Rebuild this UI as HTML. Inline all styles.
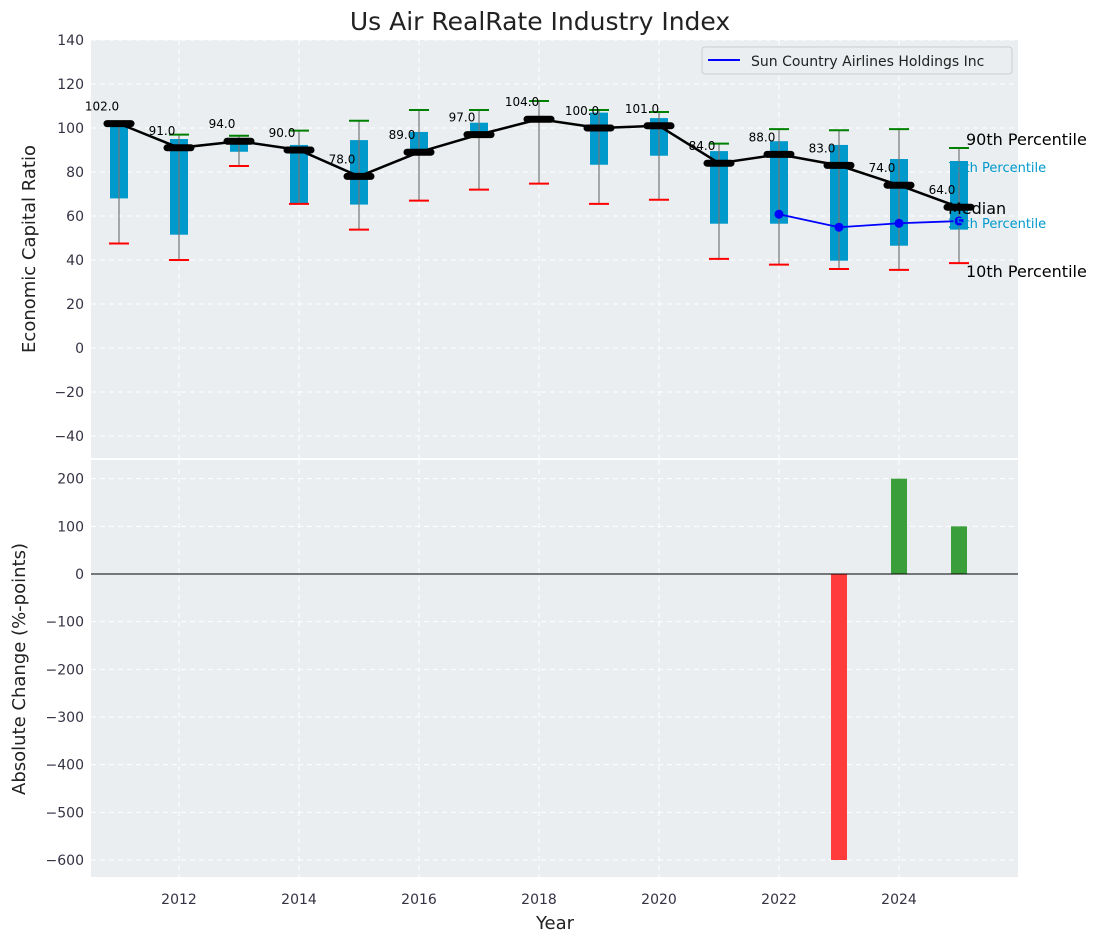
<!DOCTYPE html>
<html><head><meta charset="utf-8"><style>
body{margin:0;background:#fff;font-family:"Liberation Sans","DejaVu Sans",sans-serif;}
svg text{font-family:"DejaVu Sans","Liberation Sans",sans-serif;}
</style></head><body>
<svg id="chart" width="1101" height="942" xmlns="http://www.w3.org/2000/svg">
<text x="540" y="30" font-size="25" text-anchor="middle" fill="#222">Us Air RealRate Industry Index</text>
<rect x="91" y="40" width="927" height="418" fill="#eaeef0"/>
<rect x="91" y="460" width="927" height="417" fill="#eaeef0"/>
<g id="topG"></g><g id="botG"></g>
<text transform="translate(35,249) rotate(-90)" font-size="18" text-anchor="middle" fill="#222">Economic Capital Ratio</text>
<text transform="translate(25,669) rotate(-90)" font-size="18" text-anchor="middle" fill="#222">Absolute Change (%-points)</text>
<text x="555" y="929" font-size="18" text-anchor="middle" fill="#222">Year</text>
<g>
<rect x="702" y="47" width="310" height="27" rx="3" fill="#eaeef0" stroke="#ccc"/>
<line x1="708" y1="60" x2="740" y2="60" stroke="#0000ff" stroke-width="2"/>
<text x="751" y="66" font-size="14" fill="#222">Sun Country Airlines Holdings Inc</text>
</g>
<text x="966" y="145" font-size="16" fill="#000">90th Percentile</text>
<text x="948" y="172" font-size="13" fill="#0099cc">75th Percentile</text>
<text x="948" y="214" font-size="16" fill="#000">Median</text>
<text x="948" y="228" font-size="13" fill="#0099cc">25th Percentile</text>
<text x="966" y="277" font-size="16" fill="#000">10th Percentile</text>
</svg>
<script>
const years=[2011,2012,2013,2014,2015,2016,2017,2018,2019,2020,2021,2022,2023,2024,2025];
const p10=[47.5,40,82.7,65.5,53.8,67,72,74.7,65.5,67.4,40.5,37.9,35.9,35.5,38.6];
const p25=[68,51.5,89.2,65.6,65.2,89,97,104,83.3,87.4,56.5,56.5,39.7,46.5,53.8];
const medians=[102,91,94,90,78,89,97,104,100,101,84,88,83,74,64];
const p75=[102,95,95,92.3,94.5,98.2,102.4,104,107,104.5,89.5,94,92.3,85.9,85];
const p90=[102,97,96.5,98.8,103.3,108.2,108.2,112.3,108.2,107.3,92.9,99.5,99,99.5,90.9];
const compYears=[2022,2023,2024,2025];
const compValues=[60.8,54.9,56.7,57.7];
const changeYears=[2023,2024,2025];
const changeValues=[-600,200,100];
const topTicks=[140,120,100,80,60,40,20,0,-20,-40];
const botTicks=[200,100,0,-100,-200,-300,-400,-500,-600];
const xTicks=[2012,2014,2016,2018,2020,2022,2024];

const NS="http://www.w3.org/2000/svg";
const X=y=>119+(y-2011)*60;
const YT=v=>348-v*2.2;
const YB=v=>574-v*0.4767;
function mk(p,t,a){const e=document.createElementNS(NS,t);for(const k in a)e.setAttribute(k,a[k]);p.appendChild(e);return e;}
const topG=document.getElementById('topG'),botG=document.getElementById('botG');
topTicks.forEach(v=>{
 const l=mk(topG,'line',{x1:91,x2:1018,y1:YT(v),y2:YT(v),stroke:'#fff','stroke-dasharray':'5,4'});
 
 
 const t=mk(topG,'text',{x:84,y:YT(v)+5,'font-size':14,'text-anchor':'end',fill:'#334'});t.textContent=v<0?'\u2212'+(-v):v;
 
 
});
botTicks.forEach(v=>{
 const l=mk(botG,'line',{x1:91,x2:1018,y1:YB(v),y2:YB(v),stroke:'#fff','stroke-dasharray':'5,4'});
 
 
 const t=mk(botG,'text',{x:84,y:YB(v)+5,'font-size':14,'text-anchor':'end',fill:'#334'});t.textContent=v<0?'\u2212'+(-v):v;
 
 
});
xTicks.forEach(y=>{
 mk(topG,'line',{x1:X(y),x2:X(y),y1:40,y2:458,stroke:'#fff','stroke-dasharray':'5,4'});
 mk(botG,'line',{x1:X(y),x2:X(y),y1:460,y2:877,stroke:'#fff','stroke-dasharray':'5,4'});
 const t=mk(botG,'text',{x:X(y),y:904,'font-size':14,'text-anchor':'middle',fill:'#334'});t.textContent=y;
 
 
});
years.forEach((y,i)=>{
 const x=X(y);
 const b=mk(topG,'rect',{x:x-9,y:YT(p75[i]),width:18,height:Math.max(1,YT(p25[i])-YT(p75[i])),fill:'#0099cc'});
 
 
 const w=mk(topG,'line',{x1:x,x2:x,y1:YT(p90[i]),y2:YT(p10[i]),stroke:'#777','stroke-width':1.2});
 
 
 const g=mk(topG,'line',{x1:x-10,x2:x+10,y1:YT(p90[i]),y2:YT(p90[i]),stroke:'green','stroke-width':2});
 
 
 const r=mk(topG,'line',{x1:x-10,x2:x+10,y1:YT(p10[i]),y2:YT(p10[i]),stroke:'red','stroke-width':2});
 
 
});
const mp=mk(topG,'polyline',{points:years.map((y,i)=>X(y)+','+YT(medians[i])).join(' '),fill:'none',stroke:'#000','stroke-width':2.5});


years.forEach((y,i)=>{
 const m=mk(topG,'line',{x1:X(y)-12,x2:X(y)+12,y1:YT(medians[i]),y2:YT(medians[i]),stroke:'#000','stroke-width':7,'stroke-linecap':'round'});
 
 
 const t=mk(topG,'text',{x:X(y)-17,y:YT(medians[i])-13,'font-size':12,'text-anchor':'middle',fill:'#000'});t.textContent=medians[i].toFixed(1);
 
 
});
const cl=mk(topG,'polyline',{points:compYears.map((y,i)=>X(y)+','+YT(compValues[i])).join(' '),fill:'none',stroke:'#0000ff','stroke-width':1.8});


compYears.forEach((y,i)=>{
 const c=mk(topG,'circle',{cx:X(y),cy:YT(compValues[i]),r:4.5,fill:'#0000ff'});
 
 
});
changeYears.forEach((y,i)=>{
 const v=changeValues[i];
 const r=mk(botG,'rect',{x:X(y)-8,y:Math.min(YB(v),YB(0)),width:16,height:Math.abs(YB(v)-YB(0)),fill:v<0?'#ff3b3b':'#3a9e3a'});
 
 
});
const z=mk(botG,'line',{x1:91,x2:1018,y1:YB(0),y2:YB(0),stroke:'#000','stroke-width':1});


</script>
</body></html>
